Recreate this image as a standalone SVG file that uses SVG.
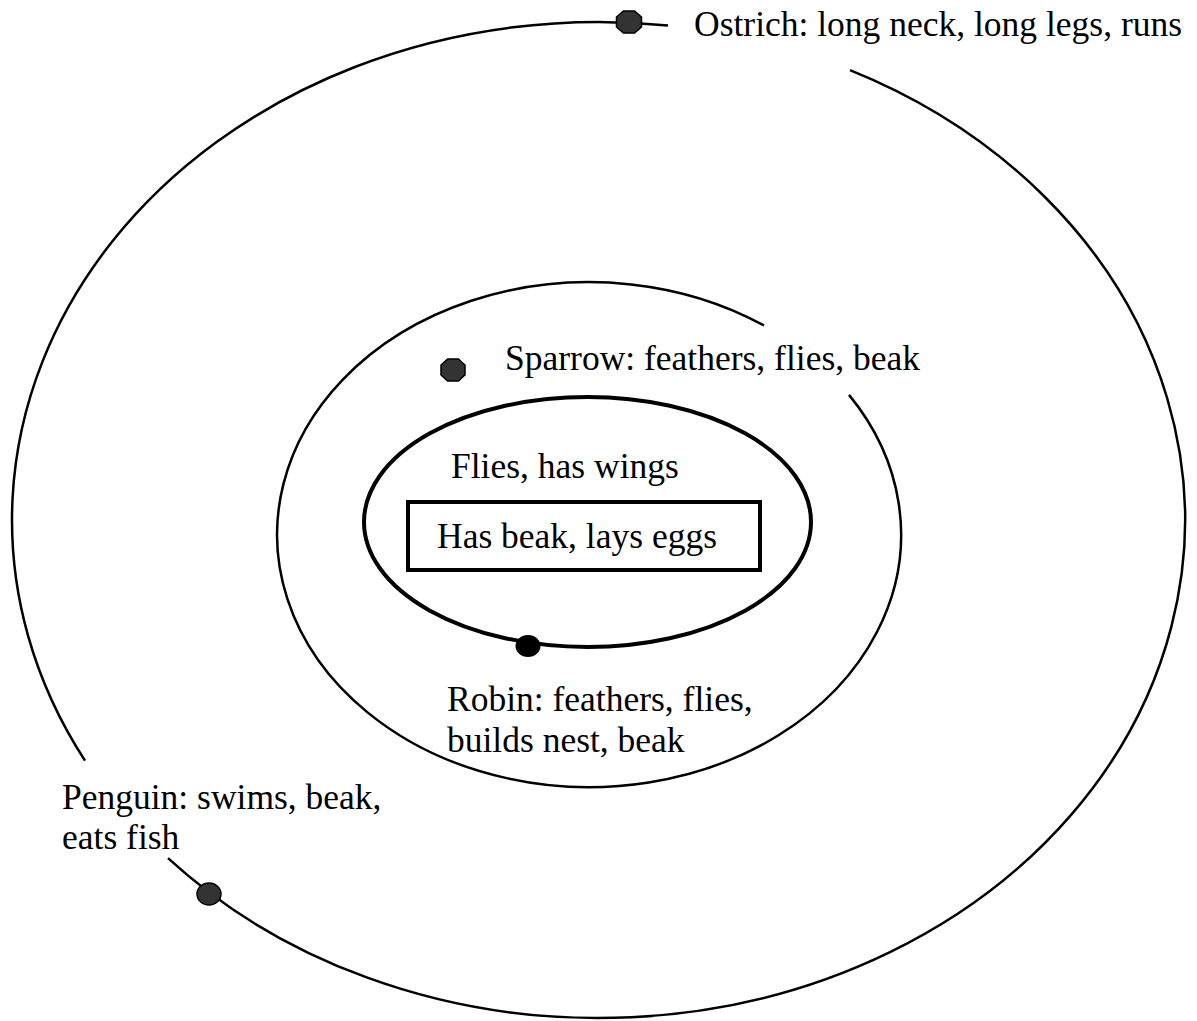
<svg xmlns="http://www.w3.org/2000/svg" width="1197" height="1021" viewBox="0 0 1197 1021">
<style>
.ring{fill:none;stroke:#000;stroke-width:2.5}
.inner{fill:none;stroke:#000;stroke-width:4}
.dot{fill:#333;stroke:#000;stroke-width:1.5}
.lbl{font-family:"Liberation Serif","Times New Roman",serif;font-size:35.5px;fill:#000}
</style>
<rect width="1197" height="1021" fill="#fff"/>
<g id="connectors">
<path class="ring" d="M 850 70.1 A 586.5 498 0 1 1 168 858.2"/>
<path class="ring" d="M 85 760.6 A 586.5 498 0 0 1 668 25.5"/>
<path class="ring" d="M 849 394.9 A 312 252.5 0 1 1 764 325.5"/>
</g>
<g id="inner-ellipse">
<ellipse class="inner" cx="587.5" cy="522" rx="223.5" ry="125"/>
<text class="lbl" x="451" y="478">Flies, has wings</text>
</g>
<g id="core-box">
<rect class="inner" x="408" y="502" width="352" height="68"/>
<text class="lbl" x="437" y="548">Has beak, lays eggs</text>
</g>
<g id="ostrich">
<polygon class="dot" points="623.4,11 634.6,11 641.5,17 641.5,27 634.6,33 623.4,33 616.5,27 616.5,17"/>
<text class="lbl" x="694" y="36">Ostrich: long neck, long legs, runs</text>
</g>
<g id="sparrow">
<polygon class="dot" points="447.6,359 458.4,359 465,365 465,375 458.4,381 447.6,381 441,375 441,365"/>
<text class="lbl" x="505" y="370">Sparrow: feathers, flies, beak</text>
</g>
<g id="robin">
<ellipse cx="528" cy="646" rx="12.5" ry="11" fill="#000"/>
<text class="lbl" x="447" y="711">Robin: feathers, flies,</text>
<text class="lbl" x="447" y="752">builds nest, beak</text>
</g>
<g id="penguin">
<ellipse class="dot" cx="209" cy="894" rx="12" ry="11"/>
<text class="lbl" x="62" y="809">Penguin: swims, beak,</text>
<text class="lbl" x="62" y="849">eats fish</text>
</g>
</svg>
